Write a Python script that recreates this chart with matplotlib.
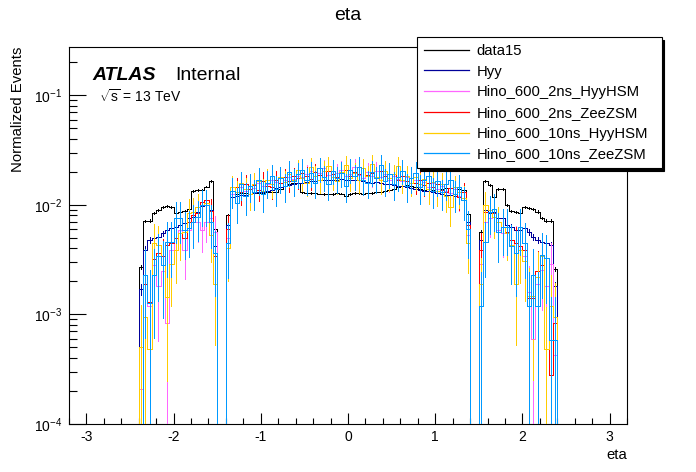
import numpy as np
import matplotlib
matplotlib.use('Agg')
import matplotlib.pyplot as plt
from matplotlib.lines import Line2D
from matplotlib.ticker import MultipleLocator, LogLocator, NullFormatter

plt.rcParams['font.family'] = ['Liberation Sans', 'DejaVu Sans']
plt.rcParams['mathtext.fontset'] = 'custom'
plt.rcParams['mathtext.rm'] = 'Liberation Sans'
plt.rcParams['mathtext.it'] = 'Liberation Sans:italic'
plt.rcParams['mathtext.bf'] = 'Liberation Sans:bold'
plt.rcParams['axes.unicode_minus'] = False

# histogram binning: 128 bins of 0.05 from -3.2 to 3.2
eta_min, eta_max, n_bins = -3.2, 3.2, 128
n_outside = 16          # empty bins beyond |eta| = 2.4
crack = [0.0, 0.0]      # 1.40 < |eta| < 1.50 is empty

# bin contents in units of 1e-3
# *_neg : -2.40 .. -1.55   *_mid : -1.40 .. 1.35   *_pos : 1.50 .. 2.35
data15_neg = [2.7, 7.1, 7.2, 8.4, 9.0, 9.5, 9.8, 9.6, 8.5, 8.6, 8.8, 9.1, 13.5, 13.6, 13.8, 14.7, 16.6, 6.0]
data15_mid = [8.1, 12.6, 12.7, 12.8, 12.8, 12.7, 12.8, 12.9,
              12.8, 13.1, 13.1, 13.2, 14.0, 14.8, 15.5, 15.8,
              16.0, 13.0, 12.9, 12.8, 12.8, 12.7, 12.6, 12.6,
              12.5, 12.9, 12.7, 12.0, 12.6, 12.8, 12.8, 12.7,
              12.8, 12.8, 13.0, 13.1, 13.3, 13.6, 14.0, 14.5,
              15.0, 15.2, 14.9, 14.6, 14.0, 13.6, 13.5, 13.8,
              14.0, 14.1, 14.3, 14.2, 14.1, 14.0, 13.8, 8.3]
data15_pos = [5.7, 16.5, 15.2, 11.9, 14.0, 14.0, 10.0, 8.85, 8.6, 8.5, 9.5, 9.3, 9.1, 8.7, 7.6, 7.2, 7.2, 2.6]

hyy_neg = [1.7, 3.9, 4.8, 5.0, 5.1, 5.5, 5.9, 6.1, 6.25, 6.6, 6.8, 7.55, 7.8, 8.7, 9.7, 10.0, 9.0, 4.2]
hyy_mid = [6.5, 11.8, 12.0, 12.2, 12.3, 12.5, 12.8, 13.0,
           13.2, 13.5, 13.8, 14.2, 14.5, 14.8, 15.2, 15.5,
           15.8, 16.0, 16.3, 16.5, 16.6, 16.8, 16.7, 16.9,
           17.0, 16.9, 17.1, 16.8, 17.0, 16.9, 16.7, 16.5,
           16.3, 16.0, 16.1, 15.8, 15.6, 15.5, 15.3, 15.0,
           14.8, 14.5, 14.3, 14.0, 13.8, 13.5, 13.3, 13.0,
           12.8, 12.6, 12.4, 12.2, 12.0, 11.8, 11.5, 7.0]
hyy_pos = [4.8, 9.0, 8.4, 8.7, 7.55, 7.55, 6.6, 6.3, 5.9, 5.9, 6.1, 5.7, 5.1, 4.8, 4.6, 4.47, 4.3, 1.8]

h2_hyy_neg = [0.21, 1.9, 1.2, 2.8, 1.8, 2.5, 0.83, 3.9, 5.0, 5.9, 3.9, 5.9, 7.0, 7.0, 5.9, 7.0, 7.6, 5.7]
h2_hyy_mid = [5.0, 12.5, 13.0, 14.5, 13.5, 15.0, 14.2, 16.0,
              14.8, 15.5, 17.0, 16.2, 17.5, 16.8, 18.0, 17.2,
              18.5, 17.8, 19.0, 20.5, 18.2, 19.5, 21.5, 18.8,
              18.0, 19.5, 21.0, 18.5, 19.2, 22.0, 18.8, 17.5,
              19.8, 18.5, 20.5, 17.8, 19.0, 17.0, 18.5, 17.2,
              16.5, 18.0, 16.0, 16.8, 15.5, 16.2, 14.5, 15.8,
              14.0, 14.8, 13.5, 12.8, 14.0, 12.0, 11.5, 5.3]
h2_hyy_pos = [2.9, 7.0, 7.6, 8.4, 5.9, 5.5, 5.5, 4.2, 4.5, 3.9, 3.4, 1.6, 0.6, 1.9, 2.55, 1.8, 2.9, 0.43]

h2_zee_neg = [0.5, 1.9, 1.3, 3.2, 3.6, 3.4, 4.3, 4.5, 5.0, 5.5, 5.0, 7.0, 8.1, 8.4, 10.7, 11.0, 8.8, 3.4]
h2_zee_mid = [6.0, 13.5, 14.5, 13.0, 15.5, 14.0, 15.2, 13.8,
              16.5, 15.0, 14.5, 17.0, 16.0, 17.8, 16.5, 18.2,
              17.5, 19.5, 18.5, 17.2, 20.0, 18.8, 18.0, 20.5,
              19.0, 17.8, 19.5, 21.0, 18.5, 20.0, 19.0, 21.5,
              18.8, 19.5, 18.0, 20.2, 18.5, 17.5, 19.2, 17.0,
              18.2, 16.5, 17.5, 15.8, 16.8, 15.2, 16.0, 14.5,
              15.5, 13.8, 13.0, 14.2, 12.5, 11.8, 13.0, 6.5]
h2_zee_pos = [3.9, 8.7, 8.7, 8.4, 7.0, 6.3, 5.7, 4.8, 4.5, 4.2, 3.9, 1.4, 1.4, 2.5, 2.8, 0.48, 0.28, 0.83]

h10_hyy_neg = [0.5, 0.95, 0.48, 4.5, 4.3, 2.8, 1.45, 2.9, 3.9, 5.5, 5.7, 8.4, 8.7, 9.6, 10.0, 10.5, 5.3, 1.9]
h10_hyy_mid = [4.0, 14.5, 13.0, 16.0, 14.0, 12.5, 15.5, 16.5,
               13.5, 17.0, 15.5, 14.0, 18.0, 16.2, 19.0, 17.0,
               21.0, 17.5, 16.0, 22.0, 18.5, 17.0, 20.5, 22.5,
               17.8, 16.5, 20.0, 23.0, 17.5, 19.5, 17.0, 21.5,
               18.5, 23.5, 18.0, 16.8, 20.5, 17.5, 19.0, 22.5,
               17.0, 18.5, 16.0, 17.8, 15.5, 17.2, 14.0, 16.2,
               13.5, 15.5, 12.0, 9.5, 14.5, 13.0, 11.5, 4.5]
h10_hyy_pos = [1.9, 10.0, 9.0, 7.8, 7.0, 6.3, 5.5, 4.3, 1.9, 3.9, 3.1, 1.46, 1.46, 2.2, 3.4, 0.48, 1.2, 0.95]

h10_zee_neg = [0.0, 2.3, 1.27, 2.3, 3.4, 2.8, 4.6, 4.6, 7.6, 7.6, 5.9, 6.1, 7.0, 7.8, 10.0, 10.0, 7.0, 3.6]
h10_zee_mid = [4.5, 13.5, 10.5, 15.5, 12.0, 15.0, 13.0, 17.0,
               12.5, 16.0, 18.5, 14.0, 17.5, 15.0, 20.0, 16.5,
               19.0, 21.0, 17.0, 19.5, 16.0, 21.5, 18.0, 15.5,
               20.5, 17.5, 19.5, 15.0, 21.0, 18.5, 22.0, 17.0,
               16.0, 20.0, 17.5, 23.0, 16.5, 19.0, 15.5, 18.0,
               20.5, 15.0, 17.5, 19.5, 14.5, 17.0, 18.5, 13.5,
               16.5, 13.0, 15.5, 17.0, 12.5, 14.5, 11.0, 6.0]
h10_zee_pos = [1.2, 4.6, 8.7, 9.2, 5.7, 6.3, 6.3, 4.2, 3.6, 6.3, 4.5, 1.2, 2.3, 1.2, 3.5, 3.3, 0.59, 0.59]

labels = ['data15', 'Hyy', 'Hino_600_2ns_HyyHSM', 'Hino_600_2ns_ZeeZSM',
          'Hino_600_10ns_HyyHSM', 'Hino_600_10ns_ZeeZSM']
colors = ['black', '#000099', '#ff66ff', '#ff0000', '#ffcc00', '#0099ff']
# number of raw events behind each normalised histogram (sets the error bars)
n_events = [200000, 50000, 1200, 1500, 1000, 800]

y_floor = 1e-4
lw = 0.5


def build(neg, mid, pos):
    h = np.concatenate([np.zeros(n_outside), neg, crack, mid, crack, pos, np.zeros(n_outside)])
    return h * 1e-3


def plotEta():
    edges = np.linspace(eta_min, eta_max, n_bins + 1)
    centers = 0.5 * (edges[1:] + edges[:-1])
    hists = [build(data15_neg, data15_mid, data15_pos),
             build(hyy_neg, hyy_mid, hyy_pos),
             build(h2_hyy_neg, h2_hyy_mid, h2_hyy_pos),
             build(h2_zee_neg, h2_zee_mid, h2_zee_pos),
             build(h10_hyy_neg, h10_hyy_mid, h10_hyy_pos),
             build(h10_zee_neg, h10_zee_mid, h10_zee_pos)]

    fig = plt.figure(figsize=(6.96, 4.72), dpi=100)
    ax = fig.add_axes([69 / 696, 48 / 472, 558 / 696, 377 / 472])
    ax.set_yscale('log')

    for i, h in enumerate(hists):
        z = 3 + i
        ax.stairs(np.clip(h, y_floor, None), edges, baseline=None,
                  color=colors[i], lw=lw, zorder=z, antialiased=False)
        nz = h > 0
        err = np.sqrt(h[nz] / n_events[i])
        lower = np.minimum(err, h[nz] - y_floor * 1.001)
        eb = ax.errorbar(centers[nz], h[nz], yerr=[lower, err], fmt='none',
                         ecolor=colors[i], elinewidth=lw, capsize=0, zorder=z)
        for c in eb[2]:
            c.set_antialiased(False)

    ax.set_xlim(eta_min, eta_max)
    ax.set_ylim(y_floor, 10 ** -0.559)

    ax.xaxis.set_major_locator(MultipleLocator(1))
    ax.xaxis.set_minor_locator(MultipleLocator(0.2))
    ax.yaxis.set_major_locator(LogLocator(base=10, numticks=10))
    ax.yaxis.set_minor_locator(LogLocator(base=10, subs=np.arange(2, 10), numticks=20))
    ax.yaxis.set_minor_formatter(NullFormatter())
    ax.tick_params(which='both', direction='in', top=False, right=False,
                   labelsize=10, width=0.8, color='black')
    ax.tick_params(axis='x', which='major', length=8, pad=4.5)
    ax.tick_params(axis='x', which='minor', length=4)
    ax.tick_params(axis='y', which='major', length=12, pad=5)
    ax.tick_params(axis='y', which='minor', length=6)
    for s in ax.spines.values():
        s.set_linewidth(0.8)

    fig.text(0.5, 1 - 16 / 472, 'eta', ha='center', va='center', fontsize=14)
    fig.text(18 / 696, 1 - 47 / 472, 'Normalized Events', rotation=90,
             ha='center', va='top', fontsize=10.7)
    fig.text(627 / 696, 1 - 455 / 472, 'eta', ha='right', va='center', fontsize=10.7)

    fig.text(92 / 696, 1 - 80 / 472, 'ATLAS', fontsize=14, fontweight='bold',
             fontstyle='italic', va='baseline')
    fig.text(175 / 696, 1 - 80 / 472, 'Internal', fontsize=14, va='baseline')
    fig.text(99 / 696, 1 - 102 / 472, r'$\sqrt{\mathrm{s}}$ = 13 TeV', fontsize=10,
             va='baseline')

    handles = [Line2D([], [], color=c, lw=0.9) for c in colors]
    leg = fig.legend(handles, labels, loc='upper left',
                     bbox_to_anchor=(417.3 / 696, 1 - 37.3 / 472, 244.4 / 696, 0.0),
                     bbox_transform=fig.transFigure, mode='expand',
                     fontsize=10.7, frameon=True, fancybox=False, framealpha=1,
                     edgecolor='black', shadow={'shade': 1.0, 'alpha': 1},
                     handlelength=3.0, handletextpad=0.55, borderpad=0.45,
                     labelspacing=0.45, borderaxespad=0)
    leg.get_frame().set_linewidth(0.8)

    plt.savefig('out.png', dpi=100)


if __name__ == "__main__":
    plotEta()
